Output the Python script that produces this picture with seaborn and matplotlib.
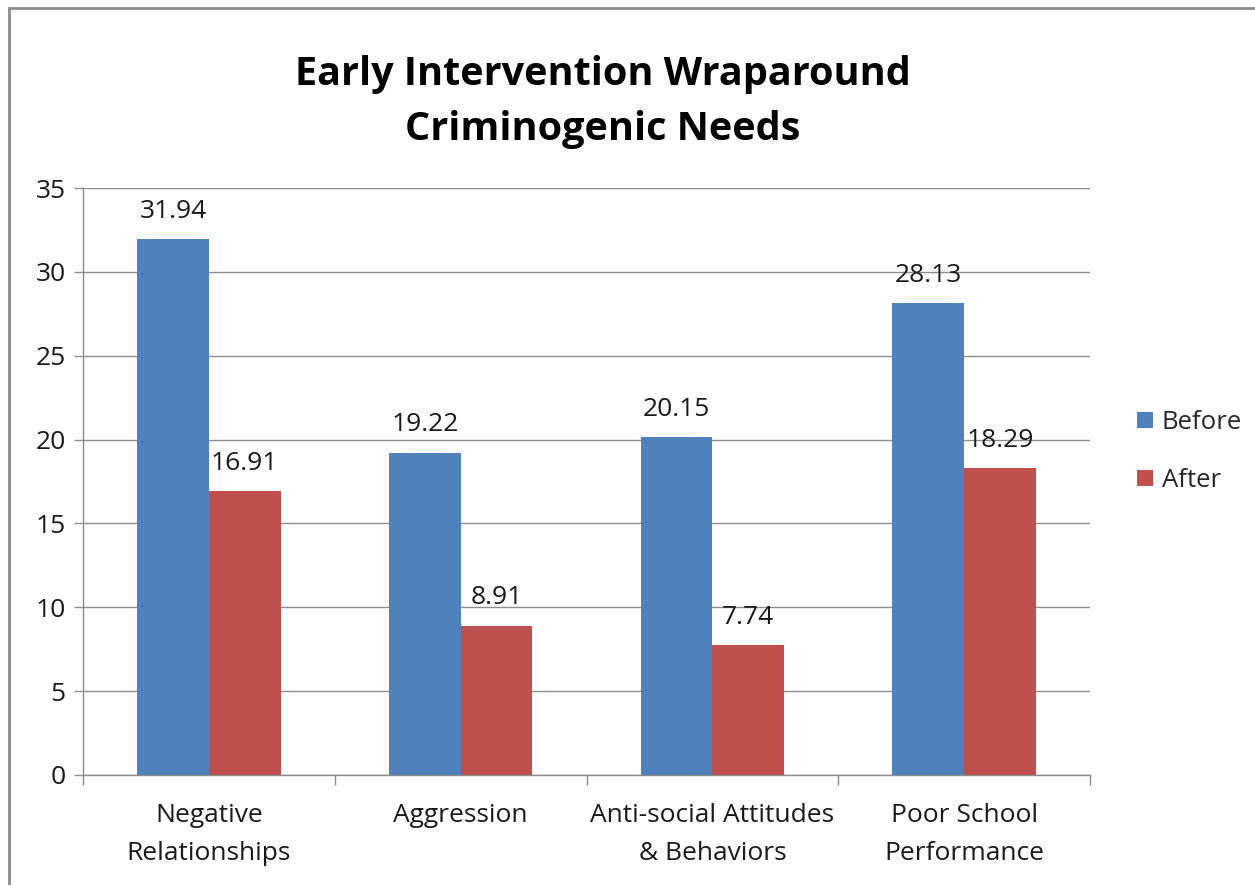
import numpy as np
import pandas as pd
import matplotlib.pyplot as plt
import seaborn as sns
from matplotlib.lines import Line2D

# Chart data
categories = ['Negative\nRelationships', 'Aggression',
              'Anti-social Attitudes\n& Behaviors', 'Poor School\nPerformance']
before = [31.94, 19.22, 20.15, 28.13]
after = [16.91, 8.91, 7.74, 18.29]
series = ['Before', 'After']
colors = ['#4F81BD', '#C0504D']
y_ticks = [0, 5, 10, 15, 20, 25, 30, 35]

df = pd.DataFrame({
    'category': categories * 2,
    'value': before + after,
    'series': ['Before'] * len(before) + ['After'] * len(after),
})

sns.set_style('white')
plt.rcParams['font.family'] = ['Open Sans', 'DejaVu Sans']
txt = '#1a1a1a'
axis_gray = '#8c8c8c'

fig = plt.figure(figsize=(12.55, 8.85), dpi=100)
ax = fig.add_axes([83 / 1255, 1 - 775 / 885, (1090 - 83) / 1255, (775 - 188) / 885])

sns.barplot(data=df, x='category', y='value', hue='series', hue_order=series,
            palette=colors, width=0.57, saturation=1, linewidth=0, ax=ax, legend=True)

# value labels
for cont in ax.containers:
    ax.bar_label(cont, fmt='%.2f', padding=11, fontsize=19, color=txt)

ax.set_ylim(0, 35)
ax.set_xlim(-0.5, len(categories) - 0.5)
ax.set_yticks(y_ticks)
ax.yaxis.grid(True, color=axis_gray, linewidth=1)
ax.set_axisbelow(True)
ax.set_xlabel('')
ax.set_ylabel('')

for s in ['top', 'right']:
    ax.spines[s].set_visible(False)
for s in ['left', 'bottom']:
    ax.spines[s].set_color(axis_gray)
    ax.spines[s].set_linewidth(1)

# category boundary ticks
ax.set_xticks(np.arange(-0.5, len(categories)), minor=True)
ax.set_xticks(range(len(categories)))
ax.set_xticklabels(categories, fontsize=19, color=txt, linespacing=1.68)
ax.tick_params(axis='x', which='major', length=0, pad=20)
ax.tick_params(axis='x', which='minor', length=7, color=axis_gray, width=1, bottom=True)
ax.tick_params(axis='y', length=6.5, color=axis_gray, width=1, left=True,
               labelsize=19, labelcolor=txt, pad=6)

ax.legend(loc='center left', bbox_to_anchor=(1.0467, 0.551), frameon=False,
          fontsize=18.5, handlelength=0.62, handleheight=0.62, handletextpad=0.35,
          labelspacing=1.28, borderpad=0, borderaxespad=0)

fig.text(603 / 1255, 1 - 102 / 885, 'Early Intervention Wraparound\nCriminogenic Needs',
         ha='center', va='center', fontsize=28.5, fontweight='bold', color='black',
         linespacing=1.55)

# chart border (top and left edges visible)
fig.add_artist(Line2D([8.5 / 1255, 8.5 / 1255], [0, 1 - 7.5 / 885],
                      transform=fig.transFigure, color=axis_gray, linewidth=2))
fig.add_artist(Line2D([8.5 / 1255, 1], [1 - 7.5 / 885, 1 - 7.5 / 885],
                      transform=fig.transFigure, color=axis_gray, linewidth=2))

fig.savefig('out.png', dpi=100)
